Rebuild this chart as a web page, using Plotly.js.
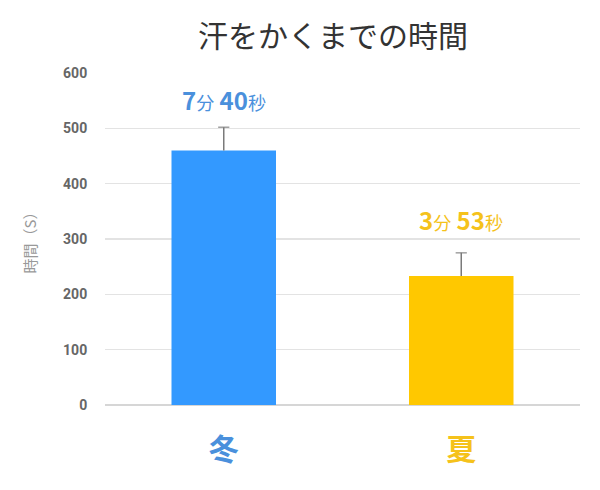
<!DOCTYPE html>
<html>
<head>
<meta charset="utf-8">
<script src="https://cdn.plot.ly/plotly-3.0.1.min.js"></script>
<style>
  html, body { margin: 0; padding: 0; background: #fff; }
  #chart { width: 600px; height: 490px; }
</style>
</head>
<body>
<div id="chart"></div>
<script>
const categories = ['冬', '夏'];
const seconds = [460, 233];
const errUp = [42, 42];
const minutesLabel = ['7', '3'];
const secondsLabel = ['40', '53'];
const barColors = ['#3399ff', '#ffc800'];
const textColors = ['#4a90dc', '#f5c21b'];
const labelY = [553, 336];

const font = '"Noto Sans CJK JP", "Noto Sans", sans-serif';

const bars = {
  x: categories,
  y: seconds,
  type: 'bar',
  marker: { color: barColors },
  hoverinfo: 'none'
};

// upper error whiskers only: stem from bar top, cap at the top end
const whiskers = categories.map((c, i) => ({
  x: [c, c],
  y: [seconds[i], seconds[i] + errUp[i]],
  type: 'scatter',
  mode: 'lines+markers',
  line: { color: '#7a7a7a', width: 1.5 },
  marker: { symbol: 'line-ew', size: [0, 8], line: { color: '#7a7a7a', width: 1.5 } },
  hoverinfo: 'none'
}));

const annotations = categories.map((c, i) => ({
  x: c,
  y: labelY[i],
  xref: 'x',
  yref: 'y',
  showarrow: false,
  text: '<b>' + minutesLabel[i] + '</b><span style="font-size:18px">分</span> <b>' +
        secondsLabel[i] + '</b><span style="font-size:18px">秒</span>',
  font: { family: font, size: 24, color: textColors[i] }
}));

const layout = {
  width: 600,
  height: 490,
  margin: { l: 105, r: 20, t: 73, b: 85 },
  paper_bgcolor: '#fff',
  plot_bgcolor: '#fff',
  showlegend: false,
  bargap: 0.56,
  title: {
    text: '汗をかくまでの時間',
    font: { family: font, size: 30, color: '#333' },
    x: 0.555,
    xanchor: 'center',
    y: 0.925,
    yanchor: 'middle'
  },
  xaxis: {
    tickmode: 'array',
    tickvals: categories,
    ticktext: categories.map((c, i) => '<b><span style="color:' + textColors[i] + '">' + c + '</span></b>'),
    tickfont: { family: font, size: 30 },
    ticks: 'outside',
    ticklen: 18,
    tickcolor: 'rgba(0,0,0,0)',
    showline: false,
    showgrid: false
  },
  yaxis: {
    range: [0, 600],
    dtick: 100,
    tickfont: { family: 'Roboto, "Noto Sans", sans-serif', size: 14, color: '#666', weight: 'bold' },
    gridcolor: '#e3e3e3',
    gridwidth: 1.5,
    zeroline: true,
    zerolinecolor: '#d6d6d6',
    zerolinewidth: 1.5,
    ticks: 'outside',
    ticklen: 14,
    tickcolor: 'rgba(0,0,0,0)',
    title: {
      text: '時間（S）',
      font: { family: font, size: 15, color: '#999' },
      standoff: 22
    }
  },
  annotations: annotations
};

Plotly.newPlot('chart', [bars].concat(whiskers), layout, { staticPlot: true });
</script>
</body>
</html>
